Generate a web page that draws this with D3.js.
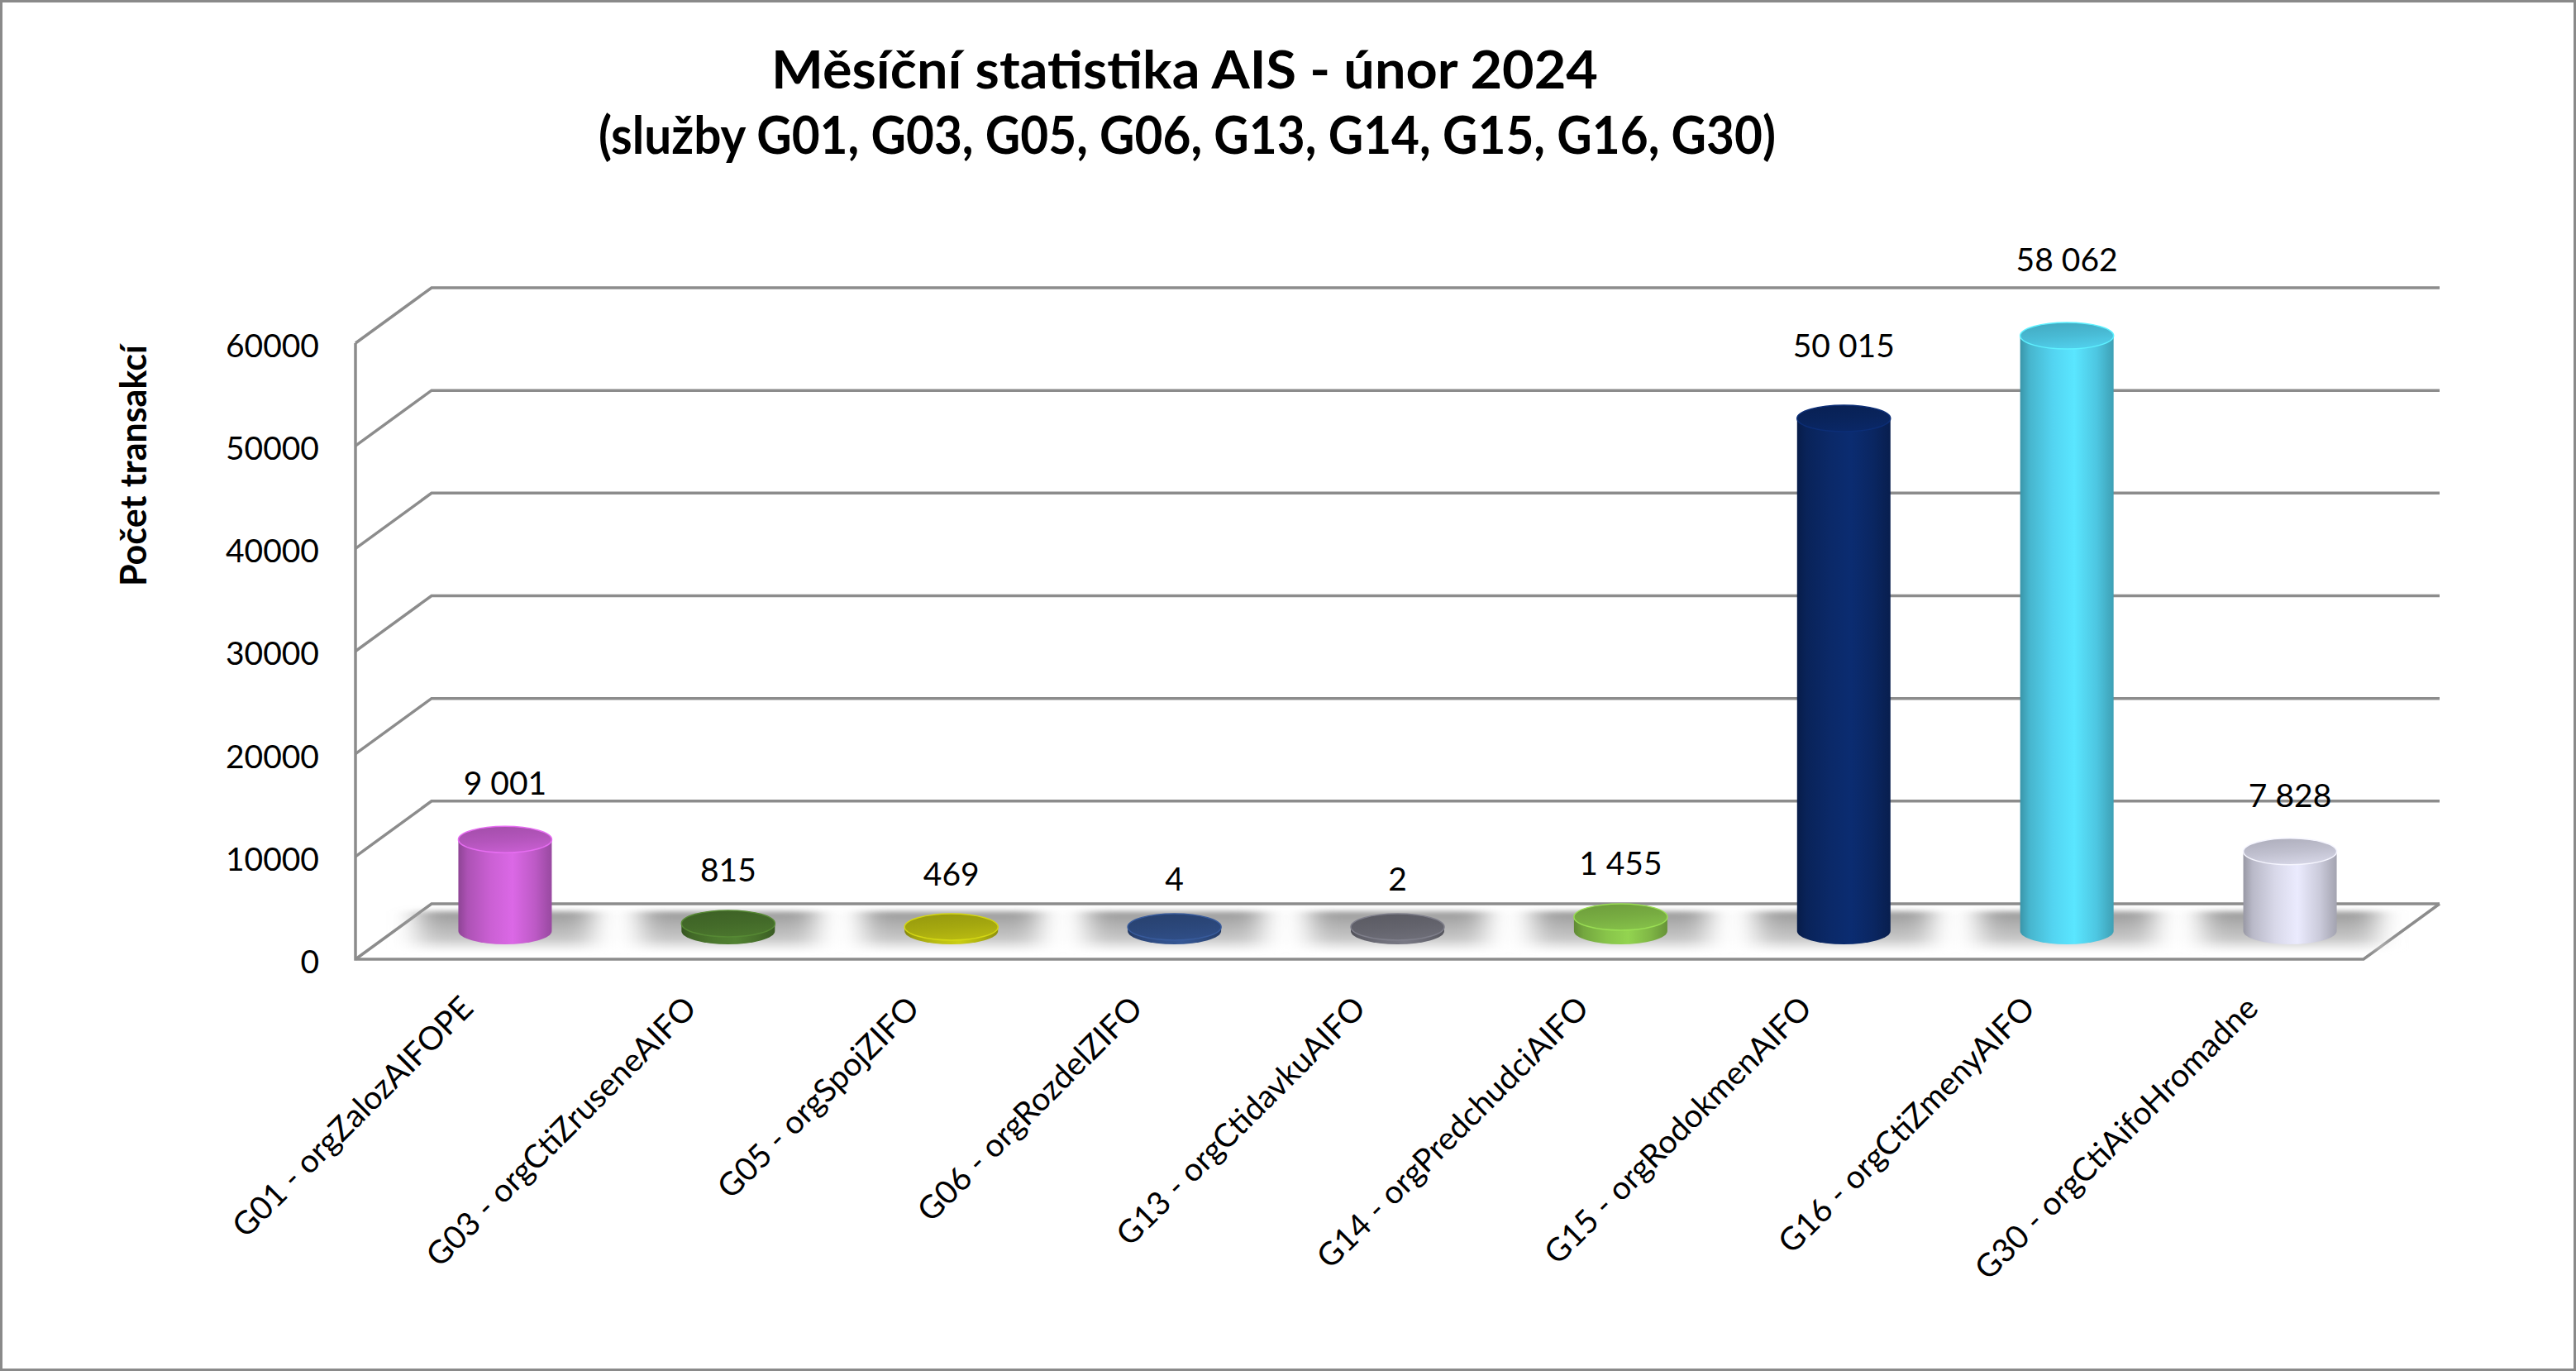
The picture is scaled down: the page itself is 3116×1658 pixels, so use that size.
<!DOCTYPE html>
<html><head><meta charset="utf-8">
<script src="https://cdn.jsdelivr.net/npm/d3@7"></script>
<style>body{margin:0;background:#fff}svg{display:block}</style>
</head><body>
<svg id="chart" width="3116" height="1658"></svg>
<script>
// ---------------- data ----------------
const categories = [
  "G01 - orgZalozAIFOPE",
  "G03 - orgCtiZruseneAIFO",
  "G05 - orgSpojZIFO",
  "G06 - orgRozdelZIFO",
  "G13 - orgCtidavkuAIFO",
  "G14 - orgPredchudciAIFO",
  "G15 - orgRodokmenAIFO",
  "G16 - orgCtiZmenyAIFO",
  "G30 - orgCtiAifoHromadne"
];
const values = [9001, 815, 469, 4, 2, 1455, 50015, 58062, 7828];
const yTicks = [0, 10000, 20000, 30000, 40000, 50000, 60000];
const barColors = ["#D264DC", "#4F7D30", "#C2C512", "#33538F", "#74747F", "#8DCB4D", "#0B2A6C", "#56DCFA", "#E1E1F3"];
const titleText = "Měsíční statistika AIS - únor 2024";
const subtitleText = "(služby G01, G03, G05, G06, G13, G14, G15, G16, G30)";
const yAxisTitle = "Počet transakcí";

// ---------------- layout ----------------
const W = 3116, H = 1658;
const FONT = "Lato, 'Open Sans', sans-serif";
const GRID = "#8c8c8c";
const DX = 92, DY = -67;               // depth offset of the back wall
const frontLeft = 430, frontRight = 2859, frontBottom = 1160, frontTop = 415;
const baseY = 1126;                     // floor level at mid-depth (bar base)
const RX = 56.5, RY = 16;

const svg = d3.select("#chart");
const defs = svg.append("defs");

const x = d3.scaleBand().domain(categories).range([frontLeft, frontRight]);
const yFront = d3.scaleLinear().domain([0, 60000]).range([frontBottom, frontTop]);
const yBack = v => yFront(v) + DY;
const yBar = d3.scaleLinear().domain([0, 60000]).range([1127, 382]);
const yLabel = d3.scaleLinear().domain([0, 60000]).range([1077, 303]);
const fmt = d3.formatLocale({decimal: ",", thousands: "\u00a0", grouping: [3], currency: ["", ""]}).format(",d");

// background + border
svg.append("rect").attr("x", 1.5).attr("y", 1.5).attr("width", W - 3).attr("height", H - 3)
  .attr("fill", "#fff").attr("stroke", "#8a8a8a").attr("stroke-width", 3);

// titles
svg.append("text").attr("x", 1433).attr("y", 107).attr("text-anchor", "middle")
  .attr("font-family", FONT).attr("font-weight", 700).attr("font-size", 64)
  .attr("textLength", 1000).attr("lengthAdjust", "spacingAndGlyphs").text(titleText);
svg.append("text").attr("x", 1436).attr("y", 186).attr("text-anchor", "middle")
  .attr("font-family", FONT).attr("font-weight", 700).attr("font-size", 63)
  .attr("textLength", 1424).attr("lengthAdjust", "spacingAndGlyphs").text(subtitleText);

// y axis title
svg.append("text").attr("transform", "translate(177,563) rotate(-90)").attr("text-anchor", "middle")
  .attr("font-family", FONT).attr("font-weight", 700).attr("font-size", 43)
  .attr("textLength", 292).attr("lengthAdjust", "spacingAndGlyphs").text(yAxisTitle);

// gridlines (left wall diagonal + back wall horizontal)
const grid = svg.append("g").attr("fill", "none").attr("stroke", GRID).attr("stroke-width", 3.5);
grid.selectAll("path.g").data(yTicks).join("path").attr("class", "g")
  .attr("d", v => `M${frontLeft},${yFront(v)}L${frontLeft + DX},${yBack(v)}L${frontRight + DX},${yBack(v)}`);
grid.append("path").attr("d", `M${frontLeft},${frontTop}L${frontLeft},${frontBottom}L${frontRight},${frontBottom}L${frontRight + DX},${yBack(0)}`);

// y tick labels
const yAxis = svg.append("g").attr("transform", `translate(${frontLeft},0)`)
  .call(d3.axisLeft(yFront).tickValues(yTicks).tickSize(0).tickPadding(44).tickFormat(d3.format("d")));
yAxis.select(".domain").remove();
yAxis.selectAll("text").attr("font-family", FONT).attr("font-size", 39).attr("fill", "#000").attr("dy", "0.42em");

// floor shadows
const blur = defs.append("filter").attr("id", "sblur").attr("x", "-50%").attr("y", "-50%").attr("width", "200%").attr("height", "200%");
blur.append("feGaussianBlur").attr("stdDeviation", "16 3");
const sg = defs.append("linearGradient").attr("id", "shadowGrad").attr("x1", 0).attr("y1", 0).attr("x2", 0).attr("y2", 1);
sg.append("stop").attr("offset", "0%").attr("stop-color", "#9a9a9a");
sg.append("stop").attr("offset", "100%").attr("stop-color", "#cfcfcf");

const cx = c => x(c) + x.bandwidth() / 2 + DX / 2;
const shadows = svg.append("g").attr("filter", "url(#sblur)");
shadows.selectAll("rect.s").data(categories).join("rect").attr("class", "s")
  .attr("x", c => cx(c) - 105).attr("y", 1102).attr("width", 210).attr("height", 38)
  .attr("fill", "url(#shadowGrad)");
shadows.selectAll("rect.l").data(categories).join("rect").attr("class", "l")
  .attr("x", c => cx(c) - 105).attr("y", 1140).attr("width", 210).attr("height", 8)
  .attr("fill", "#e6e6e6");

// bar gradients
categories.forEach((c, i) => {
  const col = d3.color(barColors[i]);
  const g = defs.append("linearGradient").attr("id", "body" + i).attr("x1", 0).attr("x2", 1).attr("y1", 0).attr("y2", 0);
  [[0, col.darker(1.1)], [0.1, col.darker(0.55)], [0.35, col.darker(0.1)], [0.58, col.brighter(0.12)], [0.82, col.darker(0.3)], [1, col.darker(0.9)]]
    .forEach(([o, cc]) => g.append("stop").attr("offset", o).attr("stop-color", cc.formatHex()));
  const t = defs.append("linearGradient").attr("id", "top" + i).attr("x1", 0).attr("x2", 0.3).attr("y1", 0).attr("y2", 1);
  [[0, col.darker(0.75)], [0.6, col.darker(0.45)], [1, col.darker(0.2)]]
    .forEach(([o, cc]) => t.append("stop").attr("offset", o).attr("stop-color", cc.formatHex()));
});

// cylinders
const bars = svg.append("g").selectAll("g.bar").data(categories).join("g").attr("class", "bar");
const topY = (c, i) => Math.min(yBar(values[i]), baseY - 5);
bars.append("path")
  .attr("d", (c, i) => {
    const X = cx(c), t = topY(c, i);
    return `M${X - RX},${t}L${X - RX},${baseY}A${RX},${RY} 0 0 0 ${X + RX},${baseY}L${X + RX},${t}Z`;
  })
  .attr("fill", (c, i) => `url(#body${i})`);
bars.append("ellipse")
  .attr("cx", c => cx(c)).attr("cy", (c, i) => topY(c, i)).attr("rx", RX).attr("ry", RY)
  .attr("fill", (c, i) => `url(#top${i})`)
  .attr("stroke", (c, i) => d3.color(barColors[i]).brighter(0.25).formatHex()).attr("stroke-width", 1.5);

// value labels
svg.append("g").selectAll("text").data(categories).join("text")
  .attr("x", c => cx(c)).attr("y", (c, i) => yLabel(values[i]))
  .attr("text-anchor", "middle").attr("font-family", FONT).attr("font-size", 39).attr("fill", "#000")
  .text((c, i) => fmt(values[i]));

// category labels
svg.append("g").selectAll("text").data(categories).join("text")
  .attr("transform", c => `translate(${x(c) + x.bandwidth() / 2},1212) rotate(-45)`)
  .attr("text-anchor", "end").attr("dy", "0.35em")
  .attr("font-family", FONT).attr("font-size", 39).attr("fill", "#000")
  .text(c => c);
</script>
</body></html>
